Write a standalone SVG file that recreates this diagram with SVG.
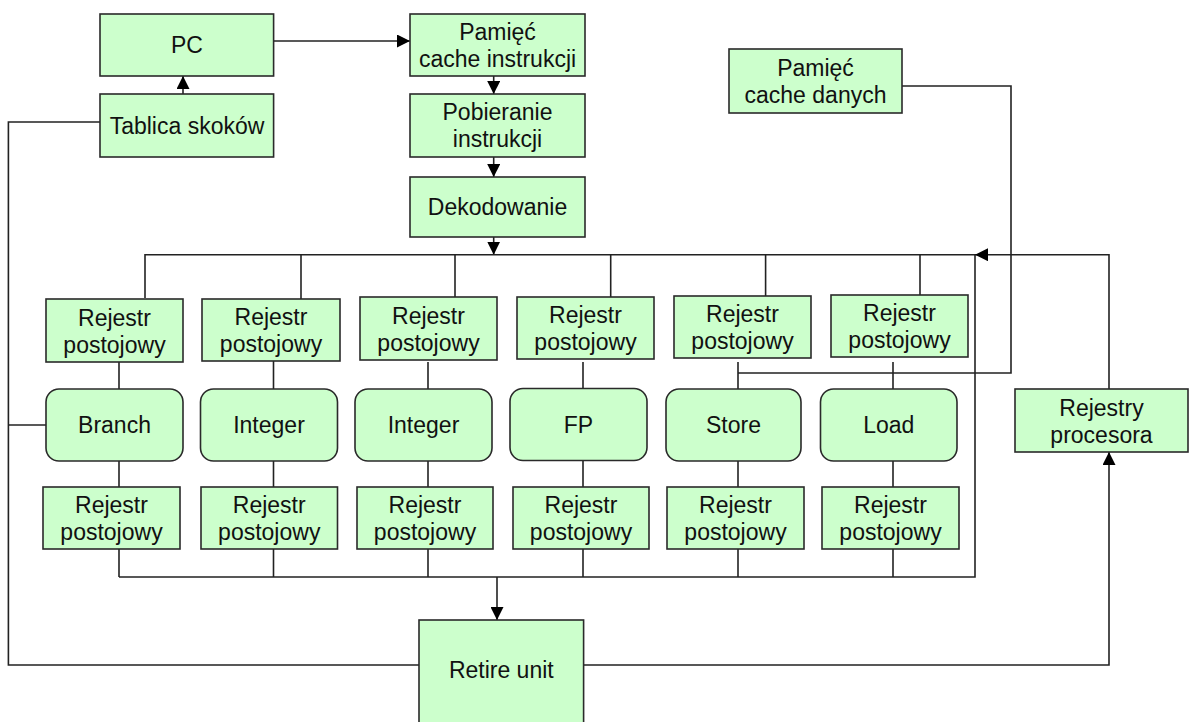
<svg xmlns="http://www.w3.org/2000/svg" width="1190" height="722" viewBox="0 0 1190 722">
  <defs>
    <marker id="arrow" viewBox="0 0 13 13" refX="13" refY="6.5" markerWidth="13" markerHeight="13" markerUnits="userSpaceOnUse" orient="auto">
      <path d="M0,0 L13,6.5 L0,13 z" fill="#000"/>
    </marker>
    <style>
      .box { fill: #ccffcc; stroke: #2a2a2a; stroke-width: 1.6; }
      .unit { fill: #ccffcc; stroke: #2a2a2a; stroke-width: 1.6; }
      .lbl { font-family: "Liberation Sans", Arial, sans-serif; font-size: 23px; fill: #111; text-anchor: middle; }
      .wire { fill: none; stroke: #222; stroke-width: 1.6; }
      .arr { fill: none; stroke: #222; stroke-width: 1.6; marker-end: url(#arrow); }
    </style>
  </defs>
  <rect x="0" y="0" width="1190" height="722" fill="#fff"/>

  <!-- connectors -->
  <g id="connectors">
    <!-- front end -->
    <path class="arr" d="M273.6,41 H410"/>
    <path class="arr" d="M183,94 V76"/>
    <path class="arr" d="M493.7,76 V94"/>
    <path class="arr" d="M493.7,157 V177"/>
    <path class="arr" d="M493.7,237 V254.7"/>
    <!-- dispatch bus -->
    <path class="wire" d="M145,298 V254.7 H975"/>
    <path class="wire" d="M301,299 V254.7"/>
    <path class="wire" d="M455,297 V254.7"/>
    <path class="wire" d="M610.7,297 V254.7"/>
    <path class="wire" d="M765.6,296 V254.7"/>
    <path class="wire" d="M920,295 V254.7"/>
    <!-- register -> unit -> register -> result bus -->
    <path class="wire" d="M119,362 V389 M119,461 V487 M119,549 V577"/>
    <path class="wire" d="M273.5,361 V389 M273.5,461 V487 M273.5,549 V577"/>
    <path class="wire" d="M428,362 V389 M428,461 V487 M428,549 V577"/>
    <path class="wire" d="M583,362 V389 M583,461 V487 M583,549 V577"/>
    <path class="wire" d="M738,362 V389 M738,461 V487 M738,549 V577"/>
    <path class="wire" d="M893,362 V389 M893,461 V487 M893,549 V577"/>
    <!-- result bus -->
    <path class="wire" d="M119,577 H975 V254.7"/>
    <path class="arr" d="M497,577 V620"/>
    <!-- data cache to store path -->
    <path class="wire" d="M902,86 H1011 V373 H738"/>
    <!-- branch feedback loop -->
    <path class="wire" d="M100,122 H8.4 V665 H419"/>
    <path class="wire" d="M8.4,425 H46"/>
    <!-- retire to register file and back to bus -->
    <path class="arr" d="M583.6,665 H1109 V452"/>
    <path class="arr" d="M1109,389 V254.7 H975"/>
  </g>

  <!-- front end -->
  <g id="pc">
    <rect class="box" x="100" y="14" width="173.6" height="62"/>
    <text class="lbl" x="187" y="53">PC</text>
  </g>
  <g id="tablica-skokow">
    <rect class="box" x="100" y="94" width="173.6" height="63"/>
    <text class="lbl" x="187" y="133.5">Tablica skoków</text>
  </g>
  <g id="cache-instrukcji">
    <rect class="box" x="410" y="14" width="175" height="62"/>
    <text class="lbl" x="497.5" y="39.5">Pamięć</text>
    <text class="lbl" x="497.5" y="66.5">cache instrukcji</text>
  </g>
  <g id="pobieranie">
    <rect class="box" x="410" y="94" width="175" height="63"/>
    <text class="lbl" x="497.5" y="120">Pobieranie</text>
    <text class="lbl" x="497.5" y="147">instrukcji</text>
  </g>
  <g id="dekodowanie">
    <rect class="box" x="410" y="177" width="175" height="60"/>
    <text class="lbl" x="497.5" y="215">Dekodowanie</text>
  </g>
  <g id="cache-danych">
    <rect class="box" x="729" y="49" width="173" height="64"/>
    <text class="lbl" x="815.5" y="75.5">Pamięć</text>
    <text class="lbl" x="815.5" y="102.5">cache danych</text>
  </g>

  <!-- input reservation registers -->
  <g id="rejestr-we-1">
    <rect class="box" x="46" y="299" width="137" height="63"/>
    <text class="lbl" x="114.5" y="325.5">Rejestr</text>
    <text class="lbl" x="114.5" y="352.5">postojowy</text>
  </g>
  <g id="rejestr-we-2">
    <rect class="box" x="202" y="299" width="138" height="62"/>
    <text class="lbl" x="271" y="325">Rejestr</text>
    <text class="lbl" x="271" y="352">postojowy</text>
  </g>
  <g id="rejestr-we-3">
    <rect class="box" x="360" y="297" width="137" height="63"/>
    <text class="lbl" x="428.5" y="323.5">Rejestr</text>
    <text class="lbl" x="428.5" y="350.5">postojowy</text>
  </g>
  <g id="rejestr-we-4">
    <rect class="box" x="517" y="297" width="137" height="62"/>
    <text class="lbl" x="585.5" y="323">Rejestr</text>
    <text class="lbl" x="585.5" y="350">postojowy</text>
  </g>
  <g id="rejestr-we-5">
    <rect class="box" x="674" y="296" width="137" height="62"/>
    <text class="lbl" x="742.5" y="322">Rejestr</text>
    <text class="lbl" x="742.5" y="349">postojowy</text>
  </g>
  <g id="rejestr-we-6">
    <rect class="box" x="831" y="295" width="137" height="62"/>
    <text class="lbl" x="899.5" y="321">Rejestr</text>
    <text class="lbl" x="899.5" y="348">postojowy</text>
  </g>

  <!-- execution units -->
  <g id="branch">
    <rect class="unit" x="46" y="389" width="137" height="72" rx="13" ry="13"/>
    <text class="lbl" x="114.5" y="433">Branch</text>
  </g>
  <g id="integer-1">
    <rect class="unit" x="200.5" y="389" width="137" height="72" rx="13" ry="13"/>
    <text class="lbl" x="269" y="433">Integer</text>
  </g>
  <g id="integer-2">
    <rect class="unit" x="355" y="389" width="137" height="72" rx="13" ry="13"/>
    <text class="lbl" x="423.5" y="433">Integer</text>
  </g>
  <g id="fp">
    <rect class="unit" x="510" y="388.5" width="137" height="72" rx="13" ry="13"/>
    <text class="lbl" x="578.5" y="432.5">FP</text>
  </g>
  <g id="store">
    <rect class="unit" x="666" y="389" width="135" height="72" rx="13" ry="13"/>
    <text class="lbl" x="733.5" y="433">Store</text>
  </g>
  <g id="load">
    <rect class="unit" x="820.5" y="389" width="136.5" height="72" rx="13" ry="13"/>
    <text class="lbl" x="888.75" y="433">Load</text>
  </g>

  <!-- output reservation registers -->
  <g id="rejestr-wy-1">
    <rect class="box" x="43" y="487" width="137" height="62"/>
    <text class="lbl" x="111.5" y="513">Rejestr</text>
    <text class="lbl" x="111.5" y="540">postojowy</text>
  </g>
  <g id="rejestr-wy-2">
    <rect class="box" x="201" y="487" width="136.5" height="62"/>
    <text class="lbl" x="269.25" y="513">Rejestr</text>
    <text class="lbl" x="269.25" y="540">postojowy</text>
  </g>
  <g id="rejestr-wy-3">
    <rect class="box" x="357" y="487" width="136" height="62"/>
    <text class="lbl" x="425" y="513">Rejestr</text>
    <text class="lbl" x="425" y="540">postojowy</text>
  </g>
  <g id="rejestr-wy-4">
    <rect class="box" x="513" y="487" width="136" height="62"/>
    <text class="lbl" x="581" y="513">Rejestr</text>
    <text class="lbl" x="581" y="540">postojowy</text>
  </g>
  <g id="rejestr-wy-5">
    <rect class="box" x="667" y="487" width="137" height="62"/>
    <text class="lbl" x="735.5" y="513">Rejestr</text>
    <text class="lbl" x="735.5" y="540">postojowy</text>
  </g>
  <g id="rejestr-wy-6">
    <rect class="box" x="822" y="487" width="137" height="62"/>
    <text class="lbl" x="890.5" y="513">Rejestr</text>
    <text class="lbl" x="890.5" y="540">postojowy</text>
  </g>

  <!-- back end -->
  <g id="retire-unit">
    <rect class="box" x="419" y="620" width="164.6" height="106"/>
    <text class="lbl" x="501.3" y="678">Retire unit</text>
  </g>
  <g id="rejestry-procesora">
    <rect class="box" x="1015" y="389" width="173" height="63"/>
    <text class="lbl" x="1101.5" y="416">Rejestry</text>
    <text class="lbl" x="1101.5" y="443">procesora</text>
  </g>
</svg>
